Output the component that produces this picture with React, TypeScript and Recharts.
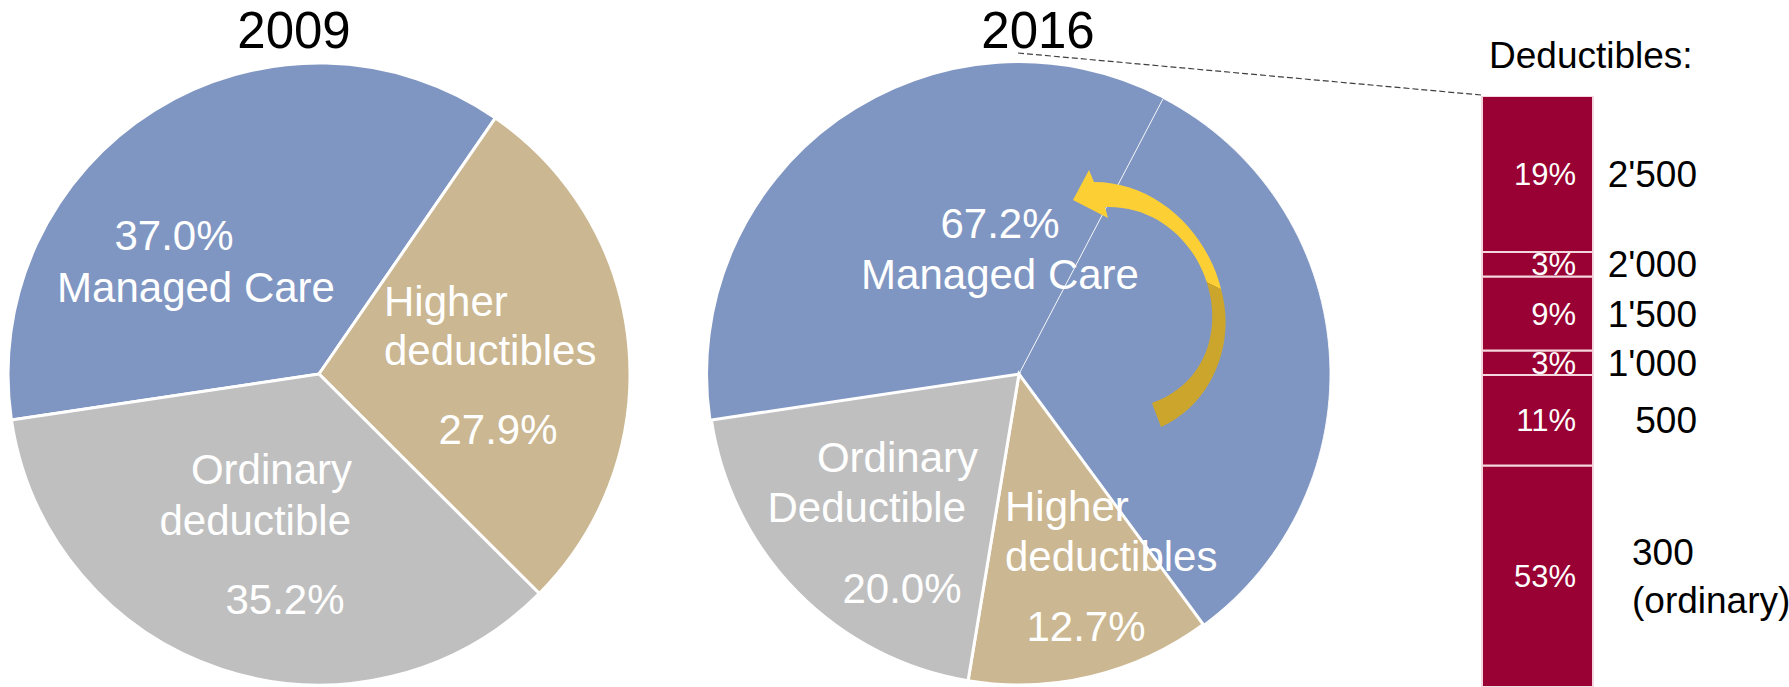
import React from 'react';
import { PieChart, Pie, Cell, BarChart, Bar, XAxis, YAxis, LabelList } from 'recharts';

const pieSlices = ['Managed Care', 'Higher deductibles', 'Ordinary deductible'];
const shares2009 = [37.0, 27.9, 35.2];
const shares2016 = [67.2, 12.7, 20.0];
// part of the 2016 managed care slice that sits left of the thin divider line
const managedCareBefore2016 = 35.0;

const deductibleLevels = ["2'500", "2'000", "1'500", "1'000", '500', '300'];
const deductibleShares = [19, 3, 9, 3, 11, 53];

const W = 1789;
const H = 687;
const FONT = '"Liberation Sans", Arial, sans-serif';
const sliceColors = ['#8096C2', '#CBB791', '#BFBFBF'];
const BAR_RED = '#990033';

const PIE_R = 311;
const PIE_CY = 374;
const PIE1_CX = 319;
const PIE2_CX = 1019;
const START_ANGLE = 188.5;

const BAR_TOP = 96;
const visibleFloor = 26; // the bar runs off the bottom of the slide

const pct = (v: number) => `${v.toFixed(1)}%`;

const data2009 = pieSlices.map((name, i) => ({ name, value: shares2009[i], slice: i }));
const data2016 = [
  { name: 'Managed Care', value: managedCareBefore2016, slice: 0 },
  { name: 'Managed Care (gain)', value: +(shares2016[0] - managedCareBefore2016).toFixed(1), slice: 0 },
  { name: pieSlices[1], value: shares2016[1], slice: 1 },
  { name: pieSlices[2], value: shares2016[2], slice: 2 },
];

type LabelLine = { t: string; dx: number; dy: number; a: 'start' | 'middle' | 'end' };

const layout2009: (LabelLine[] | null)[] = [
  [
    { t: pct(shares2009[0]), dx: -145, dy: -124, a: 'middle' },
    { t: 'Managed Care', dx: -123, dy: -72, a: 'middle' },
  ],
  [
    { t: 'Higher', dx: 65, dy: -58, a: 'start' },
    { t: 'deductibles', dx: 65, dy: -9, a: 'start' },
    { t: pct(shares2009[1]), dx: 179, dy: 70, a: 'middle' },
  ],
  [
    { t: 'Ordinary', dx: 33, dy: 110, a: 'end' },
    { t: 'deductible', dx: 32, dy: 161, a: 'end' },
    { t: pct(shares2009[2]), dx: -34, dy: 240, a: 'middle' },
  ],
];

const layout2016: (LabelLine[] | null)[] = [
  [
    { t: pct(shares2016[0]), dx: -19, dy: -136, a: 'middle' },
    { t: 'Managed Care', dx: -19, dy: -85, a: 'middle' },
  ],
  null,
  [
    { t: 'Higher', dx: -14, dy: 147, a: 'start' },
    { t: 'deductibles', dx: -14, dy: 197, a: 'start' },
    { t: pct(shares2016[1]), dx: 67, dy: 267, a: 'middle' },
  ],
  [
    { t: 'Ordinary', dx: -41, dy: 98, a: 'end' },
    { t: 'Deductible', dx: -53, dy: 148, a: 'end' },
    { t: pct(shares2016[2]), dx: -117, dy: 229, a: 'middle' },
  ],
];

const makePieLabel = (cx: number, layout: (LabelLine[] | null)[]) => (props: any) => {
  const lines = layout[props.index];
  if (!lines) return null;
  return (
    <g key={`lbl-${cx}-${props.index}`}>
      {lines.map((l, k) => (
        <text
          key={k}
          x={cx + l.dx}
          y={PIE_CY + l.dy}
          textAnchor={l.a}
          fill="#fff"
          fontSize={42}
          fontFamily={FONT}
        >
          {l.t}
        </text>
      ))}
    </g>
  );
};

const barRow: Record<string, number | string> = { name: '2016' };
deductibleShares.forEach((v, i) => {
  barRow[`s${i}`] = v;
});
const stackTotal = deductibleShares.reduce((a, b) => a + b, 0);
const stackOrder = deductibleLevels.map((_, i) => i).reverse(); // bottom segment first

const makeSegmentLabel = (i: number) => (props: any) => {
  const vb = props.viewBox && props.viewBox.width !== undefined ? props.viewBox : props;
  const x = Number(vb.x);
  const w = Number(vb.width);
  const y0 = Number(vb.y);
  const y1 = y0 + Number(vb.height);
  const top = Math.max(Math.min(y0, y1), BAR_TOP);
  const bottom = Math.min(Math.max(y0, y1), H);
  const mid = (top + bottom) / 2;
  const isOrdinary = i === deductibleLevels.length - 1;
  return (
    <g key={`seg-${i}`}>
      <text
        x={x + w - 17}
        y={mid + 0.358 * 31}
        textAnchor="end"
        fill="#fff"
        fontSize={31}
        fontFamily={FONT}
      >
        {`${deductibleShares[i]}%`}
      </text>
      {isOrdinary ? (
        <>
          <text x={x + w + 39} y={mid - 24 + 13} fill="#000" fontSize={37} fontFamily={FONT}>
            {deductibleLevels[i]}
          </text>
          <text x={x + w + 39} y={mid + 24 + 13} fill="#000" fontSize={37} fontFamily={FONT}>
            (ordinary)
          </text>
        </>
      ) : (
        <text
          x={x + w + 104}
          y={mid + 13}
          textAnchor="end"
          fill="#000"
          fontSize={37}
          fontFamily={FONT}
        >
          {deductibleLevels[i]}
        </text>
      )}
    </g>
  );
};

export default function App() {
  return (
    <div
      style={{
        position: 'absolute',
        left: 0,
        top: 0,
        width: W,
        height: H,
        overflow: 'hidden',
        background: '#fff',
        fontFamily: FONT,
      }}
    >
      <div style={{ position: 'absolute', left: 0, top: 0 }}>
        <PieChart width={1400} height={H} margin={{ top: 0, right: 0, bottom: 0, left: 0 }}>
          <Pie
            data={data2009}
            dataKey="value"
            cx={PIE1_CX}
            cy={PIE_CY}
            outerRadius={PIE_R}
            startAngle={START_ANGLE}
            endAngle={START_ANGLE - 360}
            stroke="#fff"
            strokeWidth={3}
            labelLine={false}
            label={makePieLabel(PIE1_CX, layout2009)}
            isAnimationActive={false}
          >
            {data2009.map((d, i) => (
              <Cell key={i} fill={sliceColors[d.slice]} />
            ))}
          </Pie>
          <Pie
            data={data2016}
            dataKey="value"
            cx={PIE2_CX}
            cy={PIE_CY}
            outerRadius={PIE_R}
            startAngle={START_ANGLE}
            endAngle={START_ANGLE - 360}
            stroke="#fff"
            strokeWidth={3}
            labelLine={false}
            label={makePieLabel(PIE2_CX, layout2016)}
            isAnimationActive={false}
          >
            {data2016.map((d, i) => (
              <Cell
                key={i}
                fill={sliceColors[d.slice]}
                stroke={i === 0 ? 'none' : '#fff'}
                strokeWidth={i === 1 ? 1 : 3}
                strokeOpacity={i === 1 ? 0.85 : 1}
              />
            ))}
          </Pie>
        </PieChart>
      </div>

      <div style={{ position: 'absolute', left: 1440, top: 0 }}>
        <BarChart
          width={349}
          height={H}
          data={[barRow]}
          margin={{ top: BAR_TOP, right: 196, bottom: 0, left: 42 }}
          barCategoryGap={0}
        >
          <XAxis dataKey="name" hide />
          <YAxis hide domain={[visibleFloor, stackTotal]} allowDataOverflow />
          {stackOrder.map((i) => (
            <Bar
              key={i}
              dataKey={`s${i}`}
              stackId="ded"
              fill={BAR_RED}
              stroke="#F3D6DE"
              strokeWidth={2}
              isAnimationActive={false}
            >
              <LabelList dataKey={`s${i}`} content={makeSegmentLabel(i)} />
            </Bar>
          ))}
        </BarChart>
      </div>

      <svg
        width={W}
        height={H}
        style={{ position: 'absolute', left: 0, top: 0, pointerEvents: 'none' }}
      >
        <defs>
          <linearGradient
            id="arrowShade"
            gradientUnits="userSpaceOnUse"
            x1={1194.6}
            y1={331.7}
            x2={1239.4}
            y2={242.3}
          >
            <stop offset="0" stopColor="#CBA52C" />
            <stop offset="0.5" stopColor="#CBA52C" />
            <stop offset="0.5" stopColor="#FCCF34" />
            <stop offset="1" stopColor="#FCCF34" />
          </linearGradient>
        </defs>
        <text x={PIE1_CX - 25} y={48} textAnchor="middle" fontSize={51} fill="#000" fontFamily={FONT}>
          2009
        </text>
        <text x={PIE2_CX + 19} y={48} textAnchor="middle" fontSize={51} fill="#000" fontFamily={FONT}>
          2016
        </text>
        <text x={1489} y={68} fontSize={37} fill="#000" fontFamily={FONT}>
          Deductibles:
        </text>
        <line x1={1018} y1={53} x2={1481} y2={95} stroke="#404040" strokeWidth={1.2} strokeDasharray="6 3" />
        <path
          d="M1161,427 C1210,405 1232,350 1224,303 C1214,238 1160,182 1094,182 L1089,170 L1073,200 L1108,218 L1105,207 C1158,205 1202,245 1211,300 C1218,348 1195,388 1152,403 Z"
          fill="url(#arrowShade)"
        />
      </svg>
    </div>
  );
}
